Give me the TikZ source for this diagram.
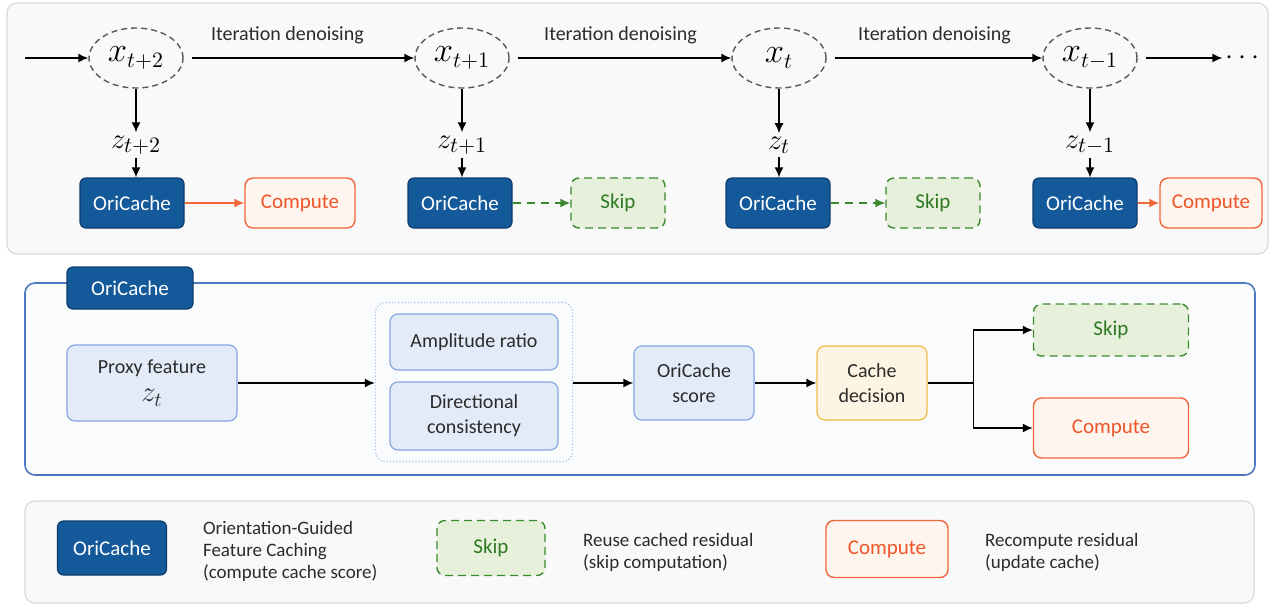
\documentclass[tikz,border=0pt]{standalone}
\usepackage{amsmath}
\usepackage{fontspec}
\setmainfont{Carlito}
\usepackage{tikz}
\usetikzlibrary{arrows.meta}
\usetikzlibrary{positioning}
\usetikzlibrary{shapes.geometric}
\usetikzlibrary{fit}

\definecolor{txtgray}{HTML}{2B2B2B}
\definecolor{oriblue}{HTML}{14599A}
\definecolor{oriedge}{HTML}{0D3C6E}
\definecolor{comporange}{HTML}{F1663A}
\definecolor{comptext}{HTML}{EE5528}
\definecolor{compfill}{HTML}{FFF5EF}
\definecolor{skipgreen}{HTML}{3C8A2E}
\definecolor{skiptext}{HTML}{2F7A22}
\definecolor{skipfill}{HTML}{E6F0DB}
\definecolor{softfill}{HTML}{E3EBF9}
\definecolor{softedge}{HTML}{86A7E0}
\definecolor{decfill}{HTML}{FEF4E3}
\definecolor{decedge}{HTML}{F5B942}
\definecolor{panelfill}{HTML}{F9F9F9}
\definecolor{paneledge}{HTML}{DADADA}
\definecolor{panelblue}{HTML}{4F77C3}
\definecolor{panelin}{HTML}{FAFBFD}
\definecolor{groupedge}{HTML}{A9C0EA}

\tikzset{
  panel/.style = {draw=paneledge, fill=panelfill, rounded corners=5pt, line width=0.6pt},
  state/.style = {ellipse, draw=black!65, dash pattern=on 3pt off 2pt, line width=0.7pt,
                  minimum width=47pt, minimum height=30pt, inner sep=0pt,
                  font=\fontsize{16}{18}\selectfont, text=black},
  latent/.style = {inner sep=1.5pt, font=\fontsize{15}{17}\selectfont, text=black},
  oribox/.style = {draw=oriedge, fill=oriblue, text=white, rounded corners=3pt,
                   line width=0.6pt, minimum width=52pt, minimum height=25pt,
                   font=\fontsize{10.5}{12}\selectfont},
  compbox/.style = {draw=comporange, fill=compfill, text=comptext, rounded corners=4pt,
                    line width=0.7pt, minimum height=25pt, font=\fontsize{10.5}{12}\selectfont},
  skipbox/.style = {draw=skipgreen, fill=skipfill, text=skiptext, rounded corners=4pt,
                    dash pattern=on 4pt off 2.5pt, line width=0.7pt, minimum height=25pt,
                    font=\fontsize{10.5}{12}\selectfont},
  softbox/.style = {draw=softedge, fill=softfill, rounded corners=4pt, line width=0.6pt,
                    align=center},
  flow/.style = {-{Latex[length=5pt, width=4.5pt]}, line width=0.8pt, black},
  hot/.style = {-{Latex[length=5pt, width=4.5pt]}, line width=0.8pt, comporange},
  reuse/.style = {-{Latex[length=5pt, width=4.5pt]}, line width=0.8pt, skipgreen,
                  dash pattern=on 4pt off 3pt},
  legend/.style = {anchor=west, align=left, font=\fontsize{9.5}{11}\selectfont},
}

\begin{document}
\begin{tikzpicture}[x=0.5pt, y=-0.5pt, font=\fontsize{10}{12.5}\selectfont, text=txtgray]
  \useasboundingbox (0,0) rectangle (1275,607);

  % panels
  \draw[panel] (7,3) rectangle (1268,254);
  \draw[panel, draw=panelblue, fill=panelin, line width=0.8pt] (25,283) rectangle (1255,475);
  \draw[panel] (25,501) rectangle (1254,603);

  % denoising chain
  \coordinate (start) at (25,58);
  \node[state] (xa) at (136,58) {$x_{t+2}$};
  \node[state] (xb) at (462,58) {$x_{t+1}$};
  \node[state] (xc) at (779,58) {$x_t$};
  \node[state] (xd) at (1090,58) {$x_{t-1}$};
  \node[latent] (more) at (1245,58) {$\cdots$};

  \draw[flow] (start) -- (xa);
  \draw[flow, shorten <=4pt] (xa) -- (xb)
    node[pos=0.45, above=3.5pt, text=txtgray, font=\fontsize{10}{12}\selectfont] (ita) {Iteration denoising};
  \draw[flow, shorten <=4pt] (xb) -- (xc)
    node[midway, above=3.5pt, text=txtgray, font=\fontsize{10}{12}\selectfont] (itb) {Iteration denoising};
  \draw[flow, shorten <=4pt] (xc) -- (xd)
    node[midway, above=3.5pt, text=txtgray, font=\fontsize{10}{12}\selectfont] (itc) {Iteration denoising};
  \draw[flow, shorten <=4pt] (xd) -- (xd -| more.west);

  % proxy features
  \node[latent] (za) at (136,145) {$z_{t+2}$};
  \node[latent] (zb) at (462,145) {$z_{t+1}$};
  \node[latent] (zc) at (779,145) {$z_t$};
  \node[latent] (zd) at (1090,145) {$z_{t-1}$};

  % cache decision per step
  \node[oribox] (oa) at (132,203) {OriCache};
  \node[oribox] (ob) at (460,203) {OriCache};
  \node[oribox] (oc) at (778,203) {OriCache};
  \node[oribox] (od) at (1085,203) {OriCache};
  \node[compbox, minimum width=55pt] (ca) at (300,203) {Compute};
  \node[skipbox, minimum width=47pt] (sb) at (618,203) {Skip};
  \node[skipbox, minimum width=47pt] (sc) at (933,203) {Skip};
  \node[compbox, minimum width=51pt] (cd) at (1211,203) {Compute};

  \draw[flow] (xa) -- (za);
  \draw[flow] (xb) -- (zb);
  \draw[flow] (xc) -- (zc);
  \draw[flow] (xd) -- (zd);
  \draw[flow] (za) -- (za |- oa.north);
  \draw[flow] (zb) -- (zb |- ob.north);
  \draw[flow] (zc) -- (zc |- oc.north);
  \draw[flow] (zd) -- (zd |- od.north);

  \draw[hot] (oa) -- (ca);
  \draw[reuse] (ob) -- (sb);
  \draw[reuse] (oc) -- (sc);
  \draw[hot] (od) -- (cd);

  % OriCache module
  \node[oribox, minimum width=63pt, minimum height=21pt] (tab) at (130,288) {OriCache};
  \node[softbox, minimum width=85pt, minimum height=38pt] (proxy) at (152,383)
    {Proxy feature\\[1.5pt]{\fontsize{14}{15}\selectfont$z_t$}};
  \node[softbox, minimum width=84pt, minimum height=28pt] (amp) at (474,342) {Amplitude ratio};
  \node[softbox, minimum width=84pt, minimum height=34pt] (dir) at (474,416) {Directional\\consistency};
  \node[draw=groupedge, densely dotted, rounded corners=5pt, line width=0.6pt,
        inner xsep=7pt, inner ysep=5.5pt, fit=(amp)(dir)] (grp) {};
  \node[softbox, minimum width=60pt, minimum height=37pt] (score) at (694,383) {OriCache\\score};
  \node[softbox, draw=decedge, fill=decfill, minimum width=55pt, minimum height=37pt] (dec) at (872,383) {Cache\\decision};
  \node[skipbox, minimum width=77.5pt, minimum height=26pt] (sk) at (1111,330) {Skip};
  \node[compbox, minimum width=77.5pt, minimum height=30pt] (cp) at (1111,428) {Compute};

  \draw[flow] (proxy) -- (proxy -| grp.west);
  \draw[flow] (grp.east |- score) -- (score);
  \draw[flow] (score) -- (dec);
  \draw[line width=0.8pt] (dec.east) -- ++(46,0) coordinate (fork);
  \draw[flow] (fork) |- (sk.west);
  \draw[flow] (fork) |- (cp.west);

  % legend
  \node[oribox, minimum width=54.5pt, minimum height=27pt] (lori) at (112,548) {OriCache};
  \node[legend] (tori) at (196,551) {Orientation-Guided\\Feature Caching\\(compute cache score)};
  \node[skipbox, minimum width=54pt, minimum height=27.5pt] (lskip) at (491,548) {Skip};
  \node[legend] (tskip) at (576,552) {Reuse cached residual\\(skip computation)};
  \node[compbox, minimum width=61pt, minimum height=28.5pt] (lcomp) at (887,549) {Compute};
  \node[legend] (tcomp) at (978,552) {Recompute residual\\(update cache)};
\end{tikzpicture}
\end{document}
